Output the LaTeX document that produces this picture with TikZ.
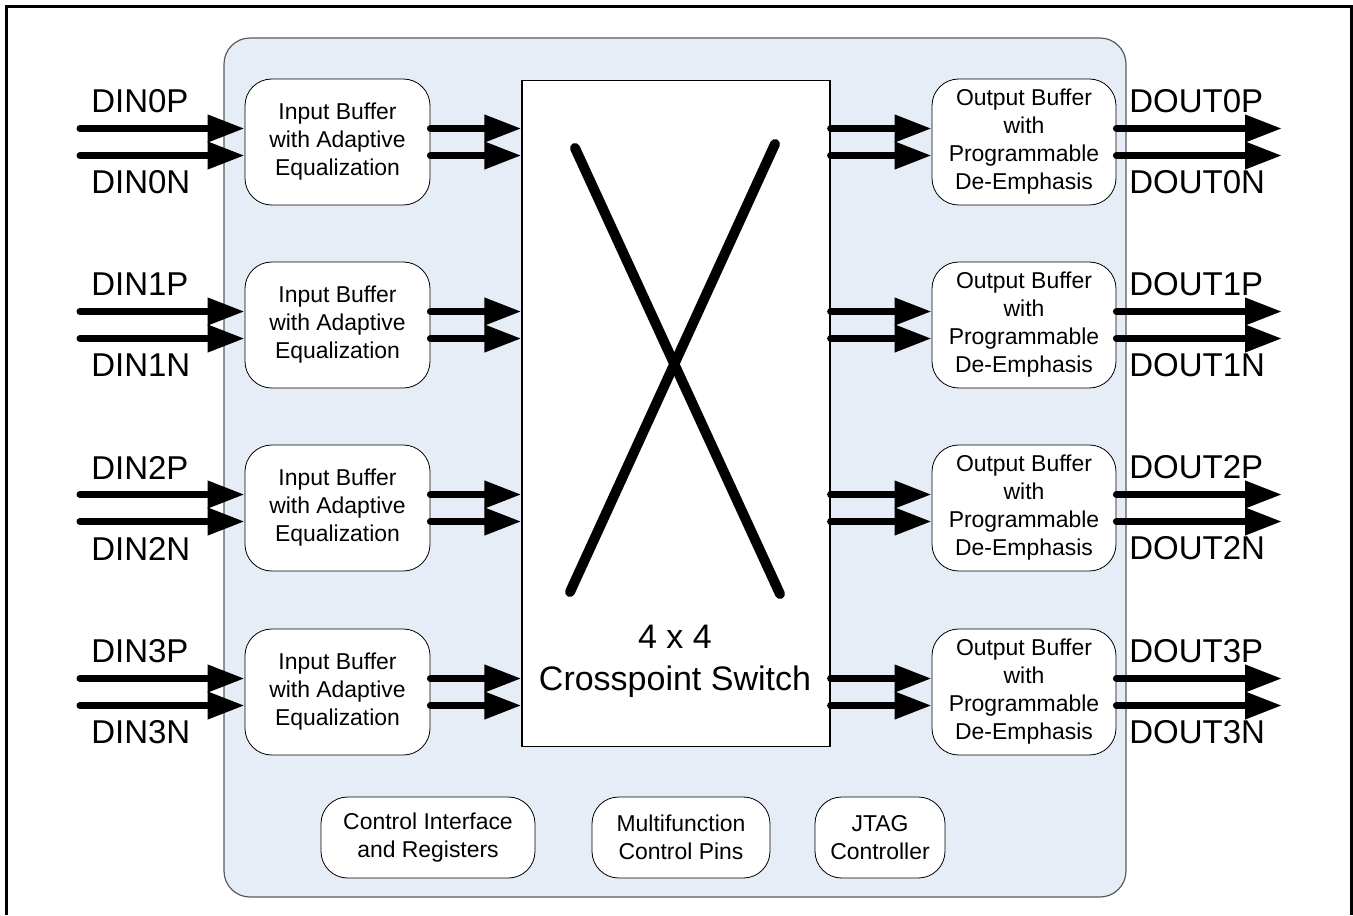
\documentclass[tikz,border=0pt]{standalone}
\usepackage{fontspec}
\setmainfont{Liberation Sans}
\usetikzlibrary{arrows.meta}
\definecolor{chipblue}{HTML}{E6EDF7}
\definecolor{chipgray}{HTML}{5A5A5A}

\begin{document}
\begin{tikzpicture}[x=0.75pt,y=-0.75pt,
    blk/.style={draw=black,line width=0.6pt,fill=white,rounded corners=20pt,align=center,inner sep=0pt,font=\fontsize{17.2}{21}\selectfont},
    sig/.style={line width=5.25pt,line cap=round,-{Triangle[length=27.75pt,width=19.5pt]}},
    pin/.style={inner sep=0pt,anchor=west,font=\fontsize{24.75}{28}\selectfont}]
    \useasboundingbox (0,0) rectangle (1353,915);
    \draw[line width=2.25pt] (6.5,915) -- (6.5,6.5) -- (1351,6.5) -- (1351,915);
    \draw[chipgray,fill=chipblue,line width=0.9pt,rounded corners=19.5pt] (224,38) rectangle (1126,897);
    % crosspoint switch
    \node[draw=black,fill=white,line width=0.9pt,minimum width=231pt,minimum height=500pt,inner sep=0pt] (xp) at (676,413.5) {};
    \draw[line width=7.5pt,line cap=round] (575,148) -- (780,594);
    \draw[line width=7.5pt,line cap=round] (775,144) -- (570,592);
    \node[align=center,font=\fontsize{25.5}{31.5}\selectfont] (xptxt) at (675,661) {4 x 4\\Crosspoint Switch};
    % lanes
    \foreach \k/\yy in {0/142,1/325,2/508,3/692} {
      \node[blk,minimum width=138.75pt,minimum height=94.5pt] (ib\k) at (337.5,\yy) {Input Buffer\\with Adaptive\\Equalization};
      \node[blk,minimum width=138pt,minimum height=94.5pt] (ob\k) at (1024,\yy) {Output Buffer\\with\\Programmable\\De-Emphasis};
      \coordinate (ip\k) at (80,\yy-13.5);
      \coordinate (in\k) at (80,\yy+13.5);
      \coordinate (op\k) at (1282,\yy-13.5);
      \coordinate (on\k) at (1282,\yy+13.5);
      \draw[sig] (ip\k) -- (ip\k -| ib\k.west);
      \draw[sig] (in\k) -- (in\k -| ib\k.west);
      \draw[sig] (ib\k.east |- ip\k) -- (xp.west |- ip\k);
      \draw[sig] (ib\k.east |- in\k) -- (xp.west |- in\k);
      \draw[sig] (xp.east |- ip\k) -- (ob\k.west |- ip\k);
      \draw[sig] (xp.east |- in\k) -- (ob\k.west |- in\k);
      \draw[sig] (ob\k.east |- op\k) -- (op\k);
      \draw[sig] (ob\k.east |- on\k) -- (on\k);
      \node[pin] (dinp\k) at (91,\yy-40.5) {DIN\k P};
      \node[pin] (dinn\k) at (91,\yy+40.5) {DIN\k N};
      \node[pin] (doutp\k) at (1129,\yy-40.5) {DOUT\k P};
      \node[pin] (doutn\k) at (1129,\yy+40.5) {DOUT\k N};
    }
    % control blocks
    \node[blk,minimum width=160.5pt,minimum height=60.75pt] (ctrl) at (428,837.5) {Control Interface\\and Registers};
    \node[blk,minimum width=133.5pt,minimum height=60.75pt] (mfp) at (681,837.5) {Multifunction\\Control Pins};
    \node[blk,minimum width=97.5pt,minimum height=60.75pt] (jtag) at (880,837.5) {JTAG\\Controller};
  \end{tikzpicture}
\end{document}
